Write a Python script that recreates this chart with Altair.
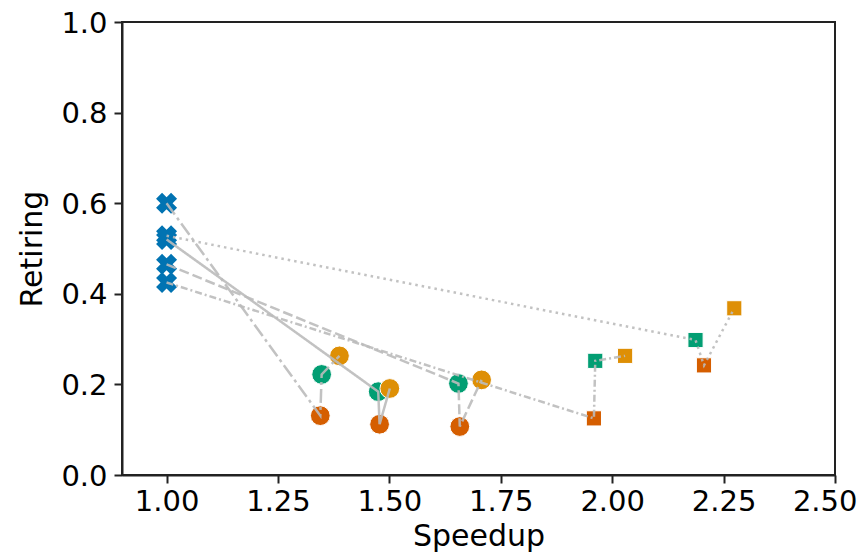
import altair as alt
import pandas as pd

# ---- data ----
series = ["A", "B", "C", "D", "E"]
baseline_speedup = [1.0, 1.0, 1.0, 1.0, 1.0]
baseline_retiring = [0.600, 0.520, 0.465, 0.425, 0.528]

variants = ["green", "orange", "red"]
variant_colors = ["#029E73", "#DE8F05", "#D55E00"]

green_speedup = [1.348, 1.475, 1.655, 1.962, 2.187]
green_retiring = [0.222, 0.184, 0.202, 0.252, 0.298]
orange_speedup = [1.388, 1.501, 1.707, 2.029, 2.274]
orange_retiring = [0.263, 0.191, 0.210, 0.263, 0.368]
red_speedup = [1.345, 1.478, 1.658, 1.959, 2.206]
red_retiring = [0.131, 0.112, 0.107, 0.125, 0.242]

marker_kind = ["circle", "circle", "circle", "square", "square"]
dash_patterns = [[14, 4, 3, 4], [1, 0], [10, 4], [7, 3, 2, 3], [2.5, 4]]

x_ticks = [1.0, 1.25, 1.5, 1.75, 2.0, 2.25, 2.5]
y_ticks = [0.0, 0.2, 0.4, 0.6, 0.8, 1.0]

# ---- tables ----
pts = []
for i, s in enumerate(series):
    for v, xs, ys in [("green", green_speedup, green_retiring),
                      ("orange", orange_speedup, orange_retiring),
                      ("red", red_speedup, red_retiring)]:
        pts.append({"series": s, "variant": v, "speedup": xs[i],
                    "retiring": ys[i], "kind": marker_kind[i]})
pts = pd.DataFrame(pts)

base = pd.DataFrame({"series": series, "speedup": baseline_speedup,
                     "retiring": baseline_retiring})

lines = pd.concat([base.assign(variant="base"), pts[["series", "variant", "speedup", "retiring"]]])
lines = lines.sort_values(["series", "speedup"]).reset_index(drop=True)
lines["step"] = lines.groupby("series").cumcount()

xscale = alt.Scale(domain=[0.9, 2.5], nice=False, zero=False)
yscale = alt.Scale(domain=[0.0, 1.0], nice=False)
xenc = alt.X("speedup:Q", scale=xscale,
             axis=alt.Axis(values=x_ticks, format=".2f", title="Speedup",
                           labelFlush=True, labelFlushOffset=22,
                           titleY=70, titleBaseline="alphabetic"))
yenc = alt.Y("retiring:Q", scale=yscale,
             axis=alt.Axis(values=y_ticks, format=".1f", title="Retiring", labelFlush=False,
                           labelOffset=1,
                           titleX=-75, titleY=226.5, titleAngle=270,
                           titleBaseline="bottom", titleAlign="center"))
color = alt.Color("variant:N", scale=alt.Scale(domain=variants, range=variant_colors), legend=None)

crosses = alt.Chart(base).mark_point(shape="cross", angle=45, filled=True, size=450,
                                     color="#0173B2", opacity=1).encode(x=xenc, y=yenc)

circles = alt.Chart(pts).transform_filter(alt.datum.kind == "circle").mark_point(
    shape="circle", filled=True, size=390, opacity=1, stroke="white", strokeWidth=1
).encode(x=xenc, y=yenc, color=color)

squares = alt.Chart(pts).transform_filter(alt.datum.kind == "square").mark_point(
    shape="square", filled=True, size=230, opacity=1, stroke="white", strokeWidth=1
).encode(x=xenc, y=yenc, color=color)

line_layer = alt.Chart(lines).mark_line(color="#bbbbbb", strokeWidth=2.5, opacity=0.9).encode(
    x=xenc, y=yenc,
    detail="series:N",
    order="step:Q",
    strokeDash=alt.StrokeDash("series:N", scale=alt.Scale(domain=series, range=dash_patterns), legend=None),
)

chart = alt.layer(crosses, circles, squares, line_layer).properties(
    width=713, height=453,
    autosize=alt.AutoSizeParams(type="none"),
    padding={"left": 114, "top": 14, "right": 23, "bottom": 77},
).configure_view(
    stroke="#222222", strokeWidth=2
).configure_axis(
    grid=False, domainColor="#222222", domainWidth=2, tickColor="#222222", tickWidth=2,
    tickSize=8, labelFont="DejaVu Sans", titleFont="DejaVu Sans", labelFontSize=29,
    titleFontSize=30, titleFontWeight="normal", labelColor="black", titleColor="black",
).configure_axisX(labelPadding=4).configure_axisY(labelPadding=7)

chart.save("out.html", embed_options={"renderer": "svg", "actions": False})
